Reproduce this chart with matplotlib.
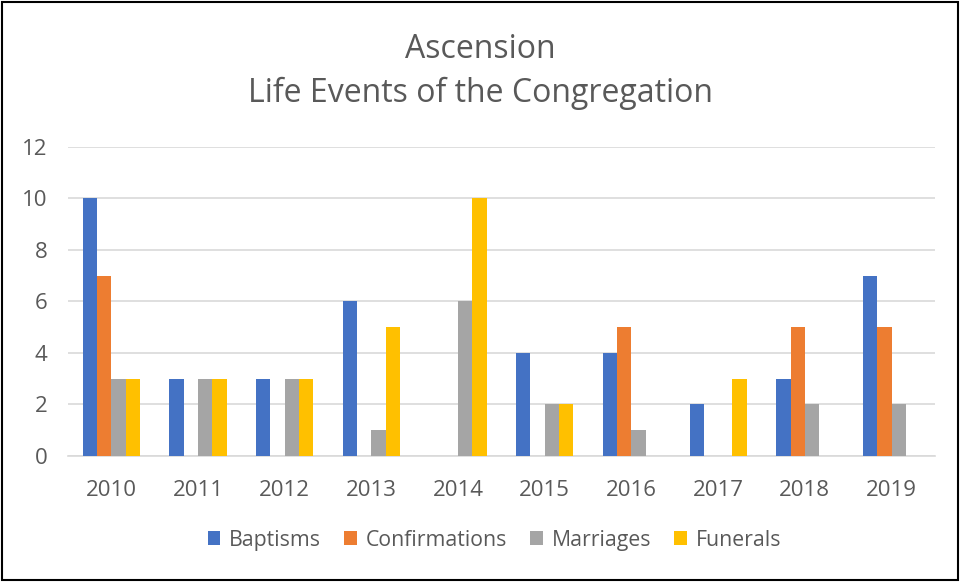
import numpy as np
import matplotlib.pyplot as plt
from matplotlib.patches import Rectangle

plt.rcParams['font.family'] = ['Open Sans', 'DejaVu Sans']

years = ['2010', '2011', '2012', '2013', '2014', '2015', '2016', '2017', '2018', '2019']
baptisms = [10, 3, 3, 6, 0, 4, 4, 2, 3, 7]
confirmations = [7, 0, 0, 0, 0, 0, 5, 0, 5, 5]
marriages = [3, 3, 3, 1, 6, 2, 1, 0, 2, 2]
funerals = [3, 3, 3, 5, 10, 2, 0, 3, 0, 0]

series = [
    ('Baptisms', baptisms, '#4472C4'),
    ('Confirmations', confirmations, '#ED7D31'),
    ('Marriages', marriages, '#A5A5A5'),
    ('Funerals', funerals, '#FFC000'),
]

fig = plt.figure(figsize=(9.61, 5.82), dpi=100)
ax = fig.add_axes([0.0708, 0.2165, 0.902, 0.531])

x = np.arange(len(years))
w = 0.165
for i, (name, vals, col) in enumerate(series):
    ax.bar(x + (i - 1.5) * w, vals, w, color=col, label=name, zorder=3)

ax.set_xlim(-0.5, len(years) - 0.5)
ax.set_ylim(0, 12)
ax.set_yticks(range(0, 13, 2))
ax.set_xticks(x)
ax.set_xticklabels(years)
ax.grid(axis='y', color='#D9D9D9', linewidth=1.2, zorder=0)
for s in ['top', 'right', 'left']:
    ax.spines[s].set_visible(False)
ax.spines['bottom'].set_color('#D9D9D9')
ax.spines['bottom'].set_linewidth(1.2)
ax.tick_params(axis='both', length=0, labelsize=16, colors='#595959')
ax.tick_params(axis='x', pad=17)
ax.tick_params(axis='y', pad=15)

fig.text(0.5, 0.915, 'Ascension', ha='center', va='center', fontsize=23, color='#595959')
fig.text(0.5, 0.839, 'Life Events of the Congregation', ha='center', va='center',
         fontsize=23, color='#595959')

fig.legend(loc='center', bbox_to_anchor=(0.5145, 0.072), ncol=4, frameon=False,
           fontsize=15.3, labelcolor='#595959', handlelength=0.6, handleheight=0.6,
           columnspacing=1.1, handletextpad=0.4)

fig.patches.append(Rectangle((0.002, 0.003), 0.995, 0.993, transform=fig.transFigure,
                             fill=False, edgecolor='black', linewidth=1.5))

fig.savefig('out.png', dpi=100)
